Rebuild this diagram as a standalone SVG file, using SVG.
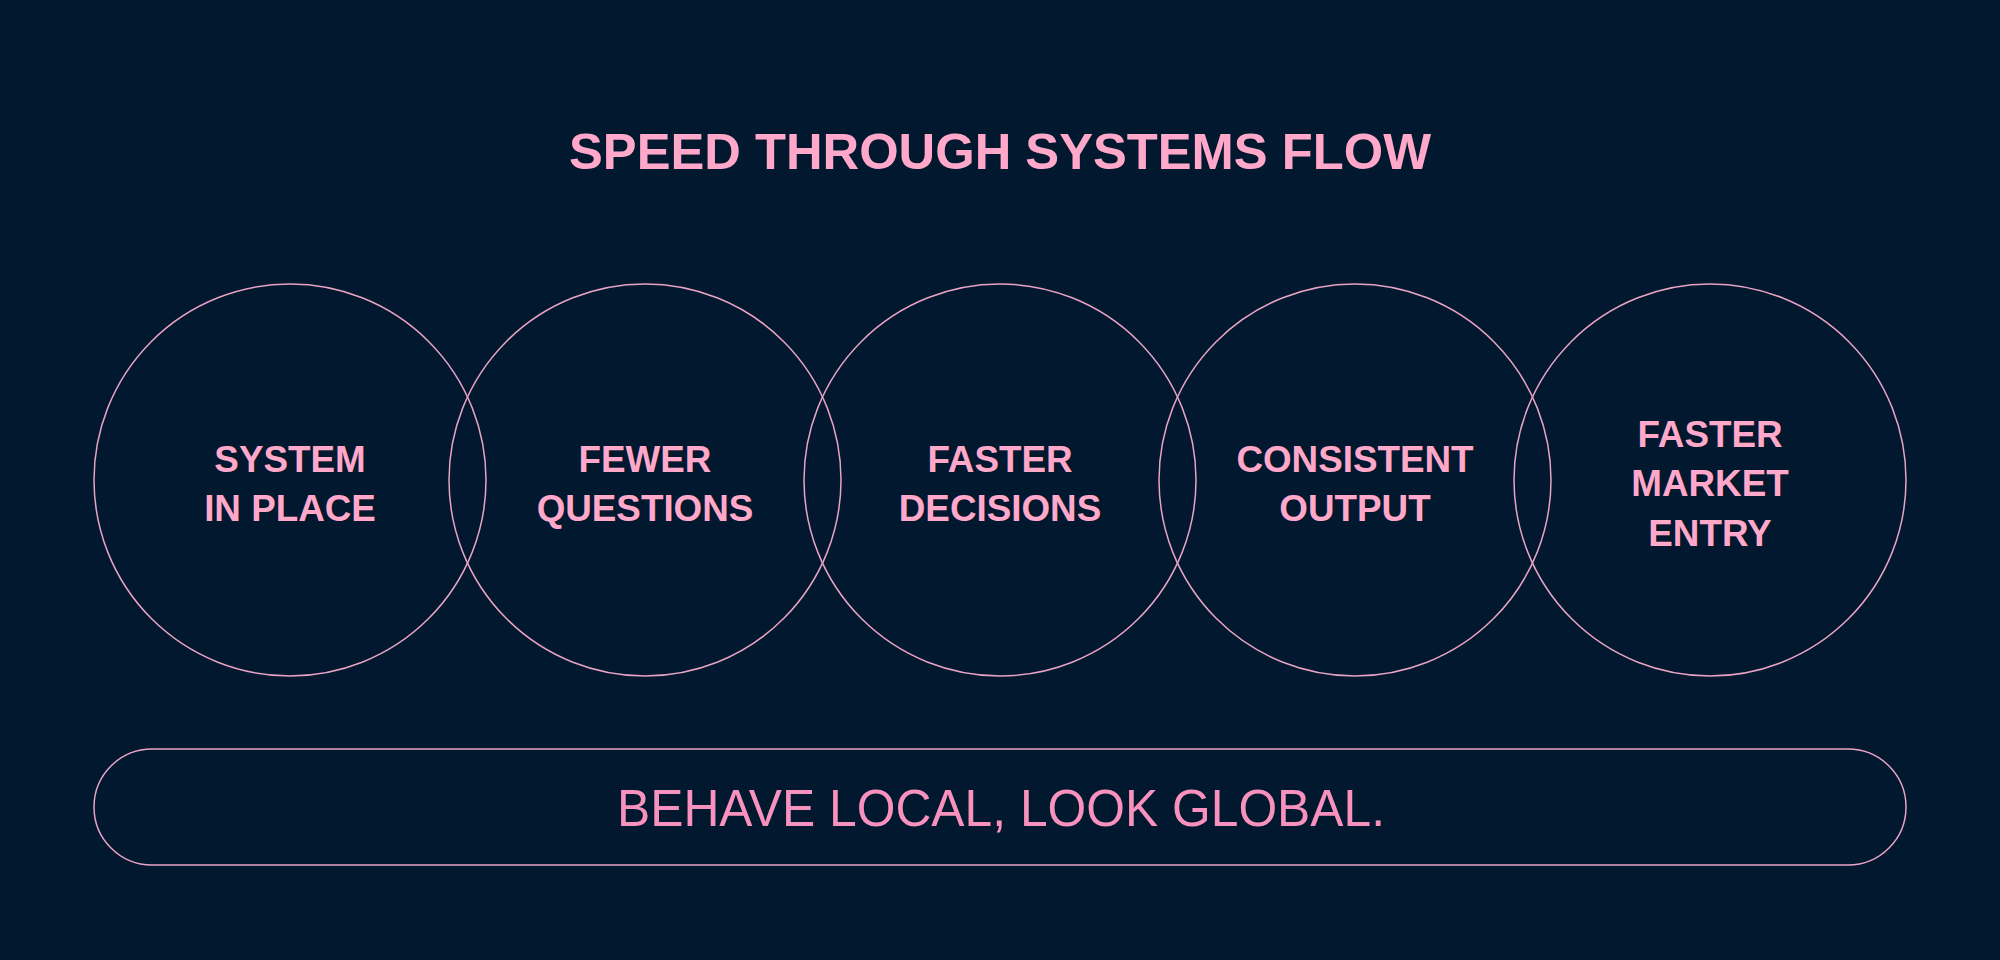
<svg xmlns="http://www.w3.org/2000/svg" width="2000" height="960" viewBox="0 0 2000 960">
  <style>
    .ring { fill: none; stroke: #E9A3C3; stroke-width: 1.5; }
    .lbl { font-family: "Liberation Sans", Arial, sans-serif; font-weight: bold; font-size: 36.8px; fill: #FFA8C9; text-anchor: middle; }
    .title { font-family: "Liberation Sans", Arial, sans-serif; font-weight: bold; font-size: 50.5px; fill: #FFA8C9; text-anchor: middle; }
    .motto { font-family: "Liberation Sans", Arial, sans-serif; font-size: 52px; fill: #F891BE; text-anchor: middle; }
  </style>
  <rect x="0" y="0" width="2000" height="960" fill="#01182F"/>
  <text class="title" x="1000" y="169" textLength="862" lengthAdjust="spacingAndGlyphs">SPEED THROUGH SYSTEMS FLOW</text>
  <g id="node-system">
    <circle class="ring" cx="290" cy="480" r="196"/>
    <text class="lbl" x="290" y="472">SYSTEM</text>
    <text class="lbl" x="290" y="521">IN PLACE</text>
  </g>
  <g id="node-fewer">
    <circle class="ring" cx="645" cy="480" r="196"/>
    <text class="lbl" x="645" y="472">FEWER</text>
    <text class="lbl" x="645" y="521">QUESTIONS</text>
  </g>
  <g id="node-decisions">
    <circle class="ring" cx="1000" cy="480" r="196"/>
    <text class="lbl" x="1000" y="472">FASTER</text>
    <text class="lbl" x="1000" y="521">DECISIONS</text>
  </g>
  <g id="node-output">
    <circle class="ring" cx="1355" cy="480" r="196"/>
    <text class="lbl" x="1355" y="472">CONSISTENT</text>
    <text class="lbl" x="1355" y="521">OUTPUT</text>
  </g>
  <g id="node-market">
    <circle class="ring" cx="1710" cy="480" r="196"/>
    <text class="lbl" x="1710" y="446.5">FASTER</text>
    <text class="lbl" x="1710" y="496">MARKET</text>
    <text class="lbl" x="1710" y="545.5">ENTRY</text>
  </g>
  <g id="connectors"></g>
  <g id="node-motto">
    <rect class="ring" x="94" y="749" width="1812" height="116" rx="58" ry="58"/>
    <text class="motto" x="1001" y="826" textLength="768" lengthAdjust="spacingAndGlyphs">BEHAVE LOCAL, LOOK GLOBAL.</text>
  </g>
</svg>
